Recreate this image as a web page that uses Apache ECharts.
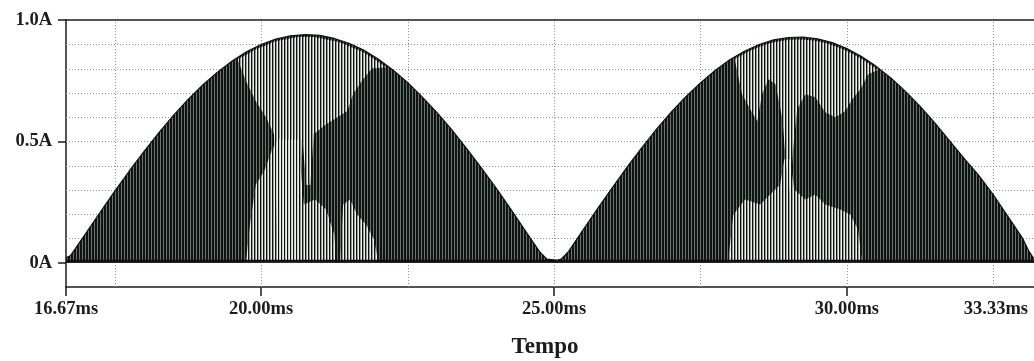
<!DOCTYPE html>
<html>
<head>
<meta charset="utf-8">
<script src="https://cdn.jsdelivr.net/npm/echarts@6/dist/echarts.min.js"></script>
<style>
  html, body { margin: 0; padding: 0; background: #ffffff; }
  #chart { width: 1034px; height: 361px; }
</style>
</head>
<body>
<div id="chart"></div>
<script>
// Axis ranges (ms, A)
const timeMin = 16.67, timeMax = 33.33;
const currentMin = -0.1, currentMax = 1.0;

// Tick / label positions
const timeTicks = [16.67, 20, 25, 30];
const timeLabels = [16.67, 20, 25, 30, 33.33];
const currentLabels = [0, 0.5, 1.0];
const gridTimes = [17.5, 20, 22.5, 25, 27.5, 30, 32.5];
const gridLevels = [0.1, 0.2, 0.3, 0.4, 0.5, 0.6, 0.7, 0.8, 0.9];

// Peak current envelope of the switched waveform
const envTime = [16.67, 16.75, 17.00, 17.25, 17.50, 17.75, 18.00, 18.25, 18.50, 18.75,
  19.00, 19.25, 19.50, 19.75, 20.00, 20.25, 20.50, 20.75, 21.00, 21.25,
  21.50, 21.75, 22.00, 22.25, 22.50, 22.75, 23.00, 23.25, 23.50, 23.75,
  24.00, 24.25, 24.50, 24.75, 24.88, 25.05,
  25.12, 25.25, 25.50, 25.75, 26.00, 26.25, 26.50, 26.75, 27.00, 27.25,
  27.50, 27.75, 28.00, 28.25, 28.50, 28.75, 29.00, 29.25, 29.50, 29.75,
  30.00, 30.25, 30.50, 30.75, 31.00, 31.25, 31.50, 31.75, 32.00, 32.25,
  32.50, 32.75, 33.00, 33.10, 33.18, 33.25, 33.33];
const envCurrent = [0.02, 0.03, 0.118, 0.207, 0.294, 0.378, 0.458, 0.534, 0.606, 0.672,
  0.731, 0.784, 0.83, 0.869, 0.899, 0.921, 0.935, 0.94, 0.937, 0.924,
  0.904, 0.876, 0.839, 0.794, 0.743, 0.683, 0.619, 0.549, 0.473, 0.394,
  0.312, 0.225, 0.136, 0.047, 0.015, 0.01,
  0.015, 0.047, 0.137, 0.225, 0.311, 0.395, 0.474, 0.55, 0.62, 0.684,
  0.741, 0.792, 0.836, 0.871, 0.899, 0.918, 0.928, 0.93, 0.922, 0.907,
  0.882, 0.85, 0.809, 0.761, 0.706, 0.644, 0.576, 0.503, 0.43, 0.36,
  0.28, 0.19, 0.10, 0.05, 0.02, 0.01, 0.01];

// Bands where the switching pulses are spread apart (light stripes)
const bandA_t  = [19.61, 19.74, 19.91, 20.08, 20.22, 20.29, 20.63, 20.70, 20.77, 20.84, 20.90, 21.11, 21.31, 21.47, 21.57, 21.72, 21.89, 22.13];
const bandA_lo = [0.83, 0.75, 0.665, 0.60, 0.53, 0, 0, 0.53, 0.32, 0.32, 0.53, 0.57, 0.60, 0.625, 0.695, 0.75, 0.80, 0.805];
const bandA_hi = [0.84, 0.855, 0.88, 0.895, 0.91, 0.915, 0.93, 0.93, 0.93, 0.93, 0.93, 0.92, 0.91, 0.895, 0.885, 0.87, 0.845, 0.805];

const bandB_t  = [19.74, 19.81, 19.91, 20.05, 20.19, 20.29, 20.63, 20.73, 20.92, 21.11, 21.25, 21.28];
const bandB_hi = [0, 0.157, 0.322, 0.376, 0.467, 0.508, 0.508, 0.24, 0.26, 0.219, 0.116, 0];

const bandC_t  = [21.35, 21.40, 21.52, 21.64, 21.79, 21.93, 22.00];
const bandC_hi = [0, 0.24, 0.26, 0.198, 0.157, 0.095, 0];

const bandD_t  = [28.09, 28.21, 28.35, 28.47, 28.55, 28.66, 28.78, 28.90, 28.96, 29.03, 29.08, 29.15, 29.29, 29.46, 29.63, 29.80, 29.97, 30.09, 30.23, 30.36, 30.53];
const bandD_lo = [0.83, 0.694, 0.632, 0.583, 0.694, 0.756, 0.736, 0.591, 0.405, 0.281, 0.467, 0.632, 0.694, 0.682, 0.62, 0.599, 0.624, 0.674, 0.715, 0.777, 0.794];
const bandD_hi = [0.84, 0.856, 0.873, 0.886, 0.893, 0.902, 0.909, 0.915, 0.917, 0.919, 0.919, 0.92, 0.919, 0.914, 0.905, 0.892, 0.875, 0.861, 0.842, 0.823, 0.794];

const bandE_t  = [27.97, 28.06, 28.26, 28.52, 28.69, 28.86, 28.93, 29.03, 29.10, 29.29, 29.46, 29.63, 29.89, 30.06, 30.19, 30.26];
const bandE_hi = [0, 0.198, 0.26, 0.24, 0.281, 0.322, 0.426, 0.426, 0.302, 0.26, 0.281, 0.24, 0.219, 0.198, 0.136, 0];

const bands = [
  { t: bandA_t, lo: bandA_lo, hi: bandA_hi },
  { t: bandB_t, lo: null, hi: bandB_hi },
  { t: bandC_t, lo: null, hi: bandC_hi },
  { t: bandD_t, lo: bandD_lo, hi: bandD_hi },
  { t: bandE_t, lo: null, hi: bandE_hi }
];

// Stripe textures: dense pulses (dark with thin light gaps) and spread pulses (wider white gaps)
function stripeCanvas(paint) {
  const c = document.createElement('canvas');
  c.width = 3; c.height = 4;
  paint(c.getContext('2d'));
  return c;
}
const densePattern = { image: stripeCanvas(g => {
  g.fillStyle = '#0f1311'; g.fillRect(0, 0, 3, 4);
  g.fillStyle = '#6a746f'; g.fillRect(1, 0, 1, 4);
}), repeat: 'repeat' };
const sparsePattern = { image: stripeCanvas(g => {
  g.clearRect(0, 0, 3, 4);
  g.fillStyle = '#eef1ee'; g.fillRect(1, 0, 1, 4);
  g.fillStyle = 'rgba(238,241,238,0.6)'; g.fillRect(0, 0, 1, 4);
}), repeat: 'repeat' };

const ink = '#1c1c1c';
const labelFont = { fontFamily: 'Liberation Serif', fontWeight: 'bold', fontSize: 18.5, color: ink };

const chart = echarts.init(document.getElementById('chart'), null, { renderer: 'canvas' });

chart.setOption({
  animation: false,
  backgroundColor: '#ffffff',
  grid: { left: 66, right: -8, top: 20, bottom: 74, containLabel: false, outerBoundsMode: 'none' },
  xAxis: [
    {
      type: 'value', min: timeMin, max: timeMax, position: 'bottom',
      axisLine: { show: true, onZero: false, lineStyle: { color: ink, width: 1.5 } },
      axisTick: { show: true, customValues: timeTicks, length: 9, inside: false, lineStyle: { color: ink, width: 1.5 } },
      axisLabel: {
        customValues: timeLabels, margin: 13, alignMaxLabel: 'right',
        formatter: v => (v > 33 ? '{e|' : '{n|') + v.toFixed(2) + 'ms}',
        rich: {
          n: labelFont,
          e: Object.assign({}, labelFont, { padding: [0, 14, 0, 0] })
        }
      },
      splitLine: { show: false },
      name: 'Tempo', nameLocation: 'middle', nameGap: 49,
      nameTextStyle: { fontFamily: 'Liberation Serif', fontWeight: 'bold', fontSize: 23, color: ink, padding: [0, 18, 0, 0] }
    },
    {
      type: 'value', min: timeMin, max: timeMax, position: 'top',
      axisLine: { show: true, onZero: false, lineStyle: { color: ink, width: 1.5 } },
      axisTick: { show: false }, axisLabel: { show: false }, splitLine: { show: false }
    }
  ],
  yAxis: {
    type: 'value', min: currentMin, max: currentMax,
    axisLine: { show: true, onZero: false, lineStyle: { color: ink, width: 1.5 } },
    axisTick: { show: true, customValues: currentLabels, length: 8, lineStyle: { color: ink, width: 1.5 } },
    axisLabel: Object.assign({
      customValues: currentLabels, margin: 14,
      formatter: v => (v === 0 ? '0A' : v.toFixed(1) + 'A')
    }, labelFont),
    splitLine: { show: false }
  },
  series: [
    {
      // dotted vertical grid
      type: 'custom', silent: true, z: 1, clip: false,
      data: gridTimes.map(t => [t, 0]),
      renderItem: (params, api) => {
        const a = api.coord([api.value(0), currentMin]);
        const b = api.coord([api.value(0), currentMax]);
        const x = Math.round(a[0]) + 0.5;
        return { type: 'line', shape: { x1: x, y1: a[1], x2: x, y2: b[1] },
          style: { stroke: '#8d8d8d', lineWidth: 1, lineDash: [1, 2] } };
      }
    },
    {
      // dotted horizontal grid
      type: 'custom', silent: true, z: 1, clip: false,
      data: gridLevels.map(v => [timeMin, v]),
      renderItem: (params, api) => {
        const a = api.coord([timeMin, api.value(1)]);
        const b = api.coord([timeMax, api.value(1)]);
        const y = Math.round(a[1]) + 0.5;
        return { type: 'line', shape: { x1: a[0], y1: y, x2: b[0], y2: y },
          style: { stroke: '#8d8d8d', lineWidth: 1, lineDash: [1, 2] } };
      }
    },
    {
      // switched current, dense pulse train under the envelope
      type: 'line', silent: true, z: 2,
      data: envTime.map((t, i) => [t, envCurrent[i]]),
      showSymbol: false, symbol: 'none',
      lineStyle: { color: '#0e100f', width: 1.2 },
      areaStyle: { color: densePattern, opacity: 1, origin: 0 }
    },
    {
      // bands of spread-out pulses
      type: 'custom', silent: true, z: 3, clip: true,
      data: bands.map(b => [b.t[0], 0]),
      renderItem: (params, api) => {
        const b = bands[params.dataIndex];
        const top = b.t.map((t, i) => api.coord([t, b.hi[i]]));
        const bottom = b.t.map((t, i) => api.coord([t, b.lo ? b.lo[i] : 0])).reverse();
        return { type: 'polygon', shape: { points: top.concat(bottom) },
          style: { fill: sparsePattern } };
      }
    },
    {
      // dark baseline of the pulse train
      type: 'custom', silent: true, z: 4, clip: true,
      data: [[timeMin, 0]],
      renderItem: (params, api) => {
        const a = api.coord([timeMin, 0.006]);
        const b = api.coord([timeMax, 0.006]);
        return { type: 'line', shape: { x1: a[0], y1: a[1], x2: b[0], y2: b[1] },
          style: { stroke: '#101211', lineWidth: 3 } };
      }
    }
  ]
});
</script>
</body>
</html>
